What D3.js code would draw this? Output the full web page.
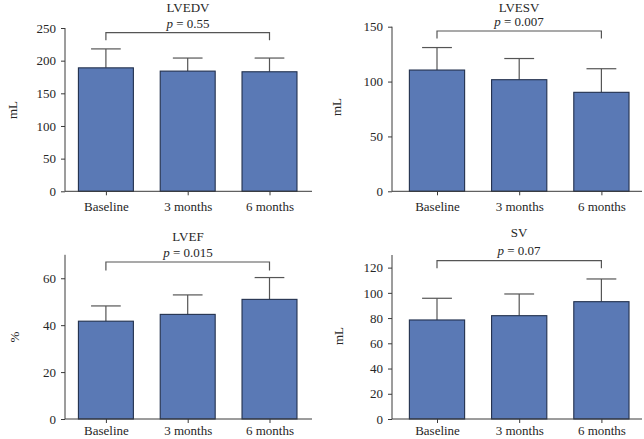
<!DOCTYPE html>
<html><head><meta charset="utf-8">
<script src="https://cdn.jsdelivr.net/npm/d3@7"></script>
<style>
html,body{margin:0;padding:0;background:#fff;}
svg{display:block;}
text{font-family:"Liberation Serif","Times New Roman",serif;fill:#262626;}
</style></head>
<body>
<svg id="c" width="644" height="439"></svg>
<script>
const categories = ["Baseline", "3 months", "6 months"];

const lvedvMean = [189, 184, 183];
const lvedvSD   = [29, 20, 21];
const lvedvTicks = [0, 50, 100, 150, 200, 250];

const lvesvMean = [110.5, 101.7, 90.2];
const lvesvSD   = [20.5, 19.3, 21.5];
const lvesvTicks = [0, 50, 100, 150];

const lvefMean = [41.7, 44.6, 51.0];
const lvefSD   = [6.5, 8.3, 9.3];
const lvefTicks = [0, 20, 40, 60];

const svMean = [78.5, 81.9, 93.0];
const svSD   = [17.2, 17.2, 18.0];
const svTicks = [0, 20, 40, 60, 80, 100, 120];

const titles = ["LVEDV", "LVESV", "LVEF", "SV"];
const pValues = ["0.55", "0.007", "0.015", "0.07"];
const yLabels = ["mL", "mL", "%", "mL"];

// layout (positions only)
const panels = [
  {mean: lvedvMean, sd: lvedvSD, ticks: lvedvTicks, max: 250, axisX: 65, xEnd: 312, bandL: 65, bandR: 310.4, y0: 191.3, yTop: 28,
   brY: 32.7, brDrop: 7.5, titleY: 12, pY: 27.5, titleX: 188, ylX: 13, ylY: 110, xlY: 211},
  {mean: lvesvMean, sd: lvesvSD, ticks: lvesvTicks, max: 150, axisX: 392, xEnd: 642, bandL: 395.9, bandR: 642.5, y0: 191.3, yTop: 26.7,
   brY: 31, brDrop: 7.5, titleY: 11.5, pY: 25.5, titleX: 519, ylX: 337, ylY: 107, xlY: 211},
  {mean: lvefMean, sd: lvefSD, ticks: lvefTicks, max: 70, axisX: 65, xEnd: 312, bandL: 65, bandR: 310.4, y0: 419, yTop: 254.8,
   brY: 262, brDrop: 8.5, titleY: 240.5, pY: 256.5, titleX: 188, ylX: 15, ylY: 337, xlY: 435},
  {mean: svMean, sd: svSD, ticks: svTicks, max: 130, axisX: 392, xEnd: 642, bandL: 395.9, bandR: 642.5, y0: 419, yTop: 255,
   brY: 260.7, brDrop: 7.5, titleY: 237, pY: 254.5, titleX: 519, ylX: 339, ylY: 336, xlY: 435}
];

const svg = d3.select("#c");
const barFill = "#5a79b5", barStroke = "#22304d", axisColor = "#3a3a3a", errColor = "#555";
const fs = "13px";

panels.forEach((p, i) => {
  const g = svg.append("g");
  const x = d3.scalePoint().domain(categories).range([p.bandL, p.bandR]).padding(0.5);
  const bw = x.step() * 0.672;
  const y = d3.scaleLinear().domain([0, p.max]).range([p.y0, p.yTop]);

  // error bars (upper only)
  categories.forEach((c, k) => {
    const cx = x(c);
    g.append("line").attr("x1", cx).attr("x2", cx)
      .attr("y1", y(p.mean[k])).attr("y2", y(p.mean[k] + p.sd[k]))
      .attr("stroke", errColor).attr("stroke-width", 1.2);
    g.append("line").attr("x1", cx - bw * 0.27).attr("x2", cx + bw * 0.27)
      .attr("y1", y(p.mean[k] + p.sd[k])).attr("y2", y(p.mean[k] + p.sd[k]))
      .attr("stroke", errColor).attr("stroke-width", 1.2);
  });

  // bars
  g.selectAll("rect.bar").data(categories).enter().append("rect")
    .attr("class", "bar")
    .attr("x", c => x(c) - bw / 2)
    .attr("width", bw)
    .attr("y", (c, k) => y(p.mean[k]))
    .attr("height", (c, k) => y(0) - y(p.mean[k]))
    .attr("fill", barFill).attr("stroke", barStroke).attr("stroke-width", 1.1);

  // y axis
  const ya = g.append("g").attr("transform", `translate(${p.axisX},0)`)
    .call(d3.axisLeft(y).tickValues(p.ticks).tickSize(4).tickPadding(5).tickFormat(d3.format("d")));
  ya.select(".domain").attr("stroke", axisColor).attr("d", `M-0,${p.y0}V${p.yTop}`);
  ya.selectAll(".tick line").attr("stroke", axisColor);
  ya.selectAll(".tick text").style("font-family", '"Liberation Serif",serif').style("font-size", fs).attr("fill", "#262626");

  // x axis
  const xa = g.append("g").attr("transform", `translate(0,${p.y0})`)
    .call(d3.axisBottom(x).tickSize(4).tickPadding(6));
  xa.select(".domain").attr("stroke", axisColor).attr("d", `M${p.axisX},0H${p.xEnd}`);
  xa.selectAll(".tick line").attr("stroke", axisColor);
  xa.selectAll(".tick text").style("font-family", '"Liberation Serif",serif').style("font-size", fs).attr("fill", "#262626")
    .attr("y", null).attr("dy", null).attr("transform", `translate(0,${p.xlY - p.y0})`);

  // bracket
  const x1 = x(categories[0]), x2 = x(categories[categories.length - 1]);
  g.append("path")
    .attr("d", `M${x1},${p.brY + p.brDrop}V${p.brY}H${x2}V${p.brY + p.brDrop}`)
    .attr("fill", "none").attr("stroke", errColor).attr("stroke-width", 1.2);

  // title
  g.append("text").attr("x", p.titleX).attr("y", p.titleY).attr("text-anchor", "middle")
    .style("font-size", fs).text(titles[i]);
  const pt = g.append("text").attr("x", p.titleX).attr("y", p.pY).attr("text-anchor", "middle").style("font-size", fs);
  pt.append("tspan").style("font-style", "italic").text("p");
  pt.append("tspan").text(" = " + pValues[i]);

  // y label
  g.append("text").attr("transform", `translate(${p.ylX + 4},${p.ylY}) rotate(-90)`)
    .attr("text-anchor", "middle").style("font-size", fs).text(yLabels[i]);
});
</script>
</body></html>
